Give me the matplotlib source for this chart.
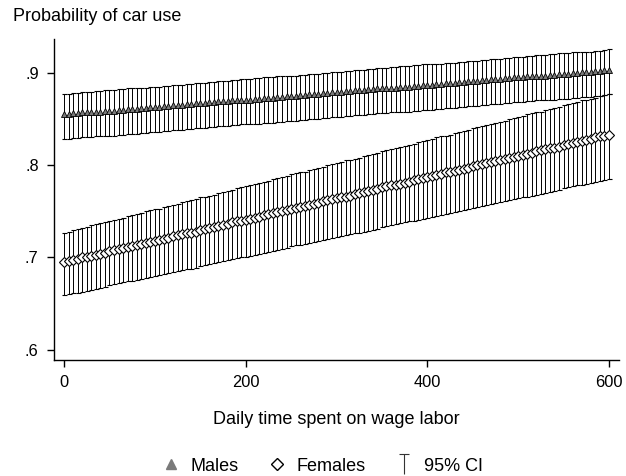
import matplotlib.pyplot as plt
from matplotlib.lines import Line2D
from matplotlib.path import Path

plt.rcParams['font.family'] = ['Liberation Sans', 'DejaVu Sans']

# minutes of daily wage labor, every 5 minutes from 0 to 600
minutes = list(range(0, 601, 5))

# predicted probability of car use, males
males = [
    0.855, 0.855, 0.856, 0.856, 0.857, 0.857, 0.857, 0.858, 0.858, 0.859,
    0.859, 0.859, 0.860, 0.860, 0.861, 0.861, 0.861, 0.862, 0.862, 0.863,
    0.863, 0.863, 0.864, 0.864, 0.865, 0.865, 0.865, 0.866, 0.866, 0.867,
    0.867, 0.867, 0.868, 0.868, 0.869, 0.869, 0.869, 0.870, 0.870, 0.871,
    0.871, 0.871, 0.872, 0.872, 0.873, 0.873, 0.873, 0.874, 0.874, 0.875,
    0.875, 0.875, 0.876, 0.876, 0.877, 0.877, 0.877, 0.878, 0.878, 0.879,
    0.879, 0.879, 0.880, 0.880, 0.881, 0.881, 0.881, 0.882, 0.882, 0.883,
    0.883, 0.883, 0.884, 0.884, 0.885, 0.885, 0.885, 0.886, 0.886, 0.887,
    0.887, 0.887, 0.888, 0.888, 0.889, 0.889, 0.889, 0.890, 0.890, 0.891,
    0.891, 0.891, 0.892, 0.892, 0.893, 0.893, 0.893, 0.894, 0.894, 0.895,
    0.895, 0.895, 0.896, 0.896, 0.897, 0.897, 0.897, 0.898, 0.898, 0.899,
    0.899, 0.899, 0.900, 0.900, 0.901, 0.901, 0.901, 0.902, 0.902, 0.903,
    0.903,
]
males_hi = [
    0.877, 0.877, 0.878, 0.878, 0.879, 0.879, 0.879, 0.880, 0.880, 0.881,
    0.881, 0.881, 0.882, 0.882, 0.883, 0.883, 0.883, 0.884, 0.884, 0.885,
    0.885, 0.885, 0.886, 0.886, 0.887, 0.887, 0.887, 0.888, 0.888, 0.889,
    0.889, 0.889, 0.890, 0.890, 0.891, 0.891, 0.891, 0.892, 0.892, 0.893,
    0.893, 0.893, 0.894, 0.894, 0.895, 0.895, 0.895, 0.896, 0.896, 0.897,
    0.897, 0.897, 0.898, 0.898, 0.899, 0.899, 0.899, 0.900, 0.900, 0.901,
    0.901, 0.901, 0.902, 0.902, 0.903, 0.903, 0.903, 0.904, 0.904, 0.905,
    0.905, 0.905, 0.906, 0.906, 0.907, 0.907, 0.907, 0.908, 0.908, 0.909,
    0.909, 0.909, 0.910, 0.910, 0.911, 0.911, 0.911, 0.912, 0.912, 0.913,
    0.913, 0.913, 0.914, 0.914, 0.915, 0.915, 0.915, 0.916, 0.916, 0.917,
    0.917, 0.917, 0.918, 0.918, 0.919, 0.919, 0.919, 0.920, 0.920, 0.921,
    0.921, 0.921, 0.922, 0.922, 0.923, 0.923, 0.923, 0.924, 0.924, 0.925,
    0.926,
]
males_lo = [
    0.828, 0.828, 0.829, 0.829, 0.830, 0.830, 0.830, 0.831, 0.831, 0.832,
    0.832, 0.832, 0.833, 0.833, 0.834, 0.834, 0.834, 0.835, 0.835, 0.836,
    0.836, 0.836, 0.837, 0.837, 0.838, 0.838, 0.838, 0.839, 0.839, 0.840,
    0.840, 0.840, 0.841, 0.841, 0.842, 0.842, 0.842, 0.843, 0.843, 0.844,
    0.844, 0.844, 0.845, 0.845, 0.846, 0.846, 0.846, 0.847, 0.847, 0.848,
    0.848, 0.848, 0.849, 0.849, 0.850, 0.850, 0.850, 0.851, 0.851, 0.852,
    0.852, 0.852, 0.853, 0.853, 0.854, 0.854, 0.854, 0.855, 0.855, 0.856,
    0.856, 0.856, 0.857, 0.857, 0.858, 0.858, 0.858, 0.859, 0.859, 0.860,
    0.860, 0.860, 0.861, 0.861, 0.862, 0.862, 0.862, 0.863, 0.863, 0.864,
    0.864, 0.864, 0.865, 0.865, 0.866, 0.866, 0.866, 0.867, 0.867, 0.868,
    0.868, 0.868, 0.869, 0.869, 0.870, 0.870, 0.870, 0.871, 0.871, 0.872,
    0.872, 0.872, 0.873, 0.873, 0.874, 0.874, 0.874, 0.875, 0.875, 0.876,
    0.877,
]

# predicted probability of car use, females
females = [
    0.695, 0.696, 0.697, 0.698, 0.700, 0.701, 0.702, 0.703, 0.704, 0.705,
    0.707, 0.708, 0.709, 0.710, 0.711, 0.712, 0.713, 0.715, 0.716, 0.717,
    0.718, 0.719, 0.720, 0.721, 0.723, 0.724, 0.725, 0.726, 0.727, 0.728,
    0.730, 0.731, 0.732, 0.733, 0.734, 0.735, 0.736, 0.738, 0.739, 0.740,
    0.741, 0.742, 0.743, 0.744, 0.746, 0.747, 0.748, 0.749, 0.750, 0.751,
    0.753, 0.754, 0.755, 0.756, 0.757, 0.758, 0.759, 0.761, 0.762, 0.763,
    0.764, 0.765, 0.766, 0.767, 0.769, 0.770, 0.771, 0.772, 0.773, 0.774,
    0.776, 0.777, 0.778, 0.779, 0.780, 0.781, 0.782, 0.784, 0.785, 0.786,
    0.787, 0.788, 0.789, 0.790, 0.792, 0.793, 0.794, 0.795, 0.796, 0.797,
    0.799, 0.800, 0.801, 0.802, 0.803, 0.804, 0.805, 0.807, 0.808, 0.809,
    0.810, 0.811, 0.812, 0.813, 0.815, 0.816, 0.817, 0.818, 0.819, 0.820,
    0.822, 0.823, 0.824, 0.825, 0.826, 0.827, 0.828, 0.830, 0.831, 0.832,
    0.833,
]
females_hi = [
    0.727, 0.728, 0.730, 0.731, 0.732, 0.733, 0.735, 0.736, 0.737, 0.738,
    0.740, 0.741, 0.742, 0.743, 0.745, 0.746, 0.747, 0.748, 0.750, 0.751,
    0.752, 0.753, 0.755, 0.756, 0.757, 0.758, 0.760, 0.761, 0.762, 0.763,
    0.765, 0.766, 0.767, 0.768, 0.770, 0.771, 0.772, 0.773, 0.775, 0.776,
    0.777, 0.778, 0.780, 0.781, 0.782, 0.783, 0.785, 0.786, 0.787, 0.788,
    0.790, 0.791, 0.792, 0.793, 0.795, 0.796, 0.797, 0.798, 0.800, 0.801,
    0.802, 0.803, 0.805, 0.806, 0.807, 0.808, 0.810, 0.811, 0.812, 0.813,
    0.815, 0.816, 0.817, 0.818, 0.820, 0.821, 0.822, 0.823, 0.825, 0.826,
    0.827, 0.828, 0.830, 0.831, 0.832, 0.833, 0.835, 0.836, 0.837, 0.838,
    0.840, 0.841, 0.842, 0.843, 0.845, 0.846, 0.847, 0.848, 0.850, 0.851,
    0.852, 0.853, 0.855, 0.856, 0.857, 0.858, 0.860, 0.861, 0.862, 0.863,
    0.865, 0.866, 0.867, 0.868, 0.870, 0.871, 0.872, 0.873, 0.875, 0.876,
    0.877,
]
females_lo = [
    0.659, 0.660, 0.661, 0.662, 0.663, 0.664, 0.665, 0.666, 0.667, 0.668,
    0.670, 0.671, 0.672, 0.673, 0.674, 0.675, 0.676, 0.677, 0.678, 0.679,
    0.680, 0.681, 0.682, 0.683, 0.684, 0.685, 0.686, 0.687, 0.688, 0.689,
    0.691, 0.692, 0.693, 0.694, 0.695, 0.696, 0.697, 0.698, 0.699, 0.700,
    0.701, 0.702, 0.703, 0.704, 0.705, 0.706, 0.707, 0.708, 0.709, 0.710,
    0.712, 0.713, 0.714, 0.715, 0.716, 0.717, 0.718, 0.719, 0.720, 0.721,
    0.722, 0.723, 0.724, 0.725, 0.726, 0.727, 0.728, 0.729, 0.730, 0.731,
    0.733, 0.734, 0.735, 0.736, 0.737, 0.738, 0.739, 0.740, 0.741, 0.742,
    0.743, 0.744, 0.745, 0.746, 0.747, 0.748, 0.749, 0.750, 0.751, 0.752,
    0.754, 0.755, 0.756, 0.757, 0.758, 0.759, 0.760, 0.761, 0.762, 0.763,
    0.764, 0.765, 0.766, 0.767, 0.768, 0.769, 0.770, 0.771, 0.772, 0.773,
    0.775, 0.776, 0.777, 0.778, 0.779, 0.780, 0.781, 0.782, 0.783, 0.784,
    0.785,
]

y_ticks = [0.6, 0.7, 0.8, 0.9]
y_labels = ['.6', '.7', '.8', '.9']
x_ticks = [0, 200, 400, 600]

fig = plt.figure(figsize=(6.26, 4.76), dpi=100)
ax = fig.add_axes([0.0863, 0.2437, 0.9025, 0.6743])

# confidence intervals as capped spikes
for lo, hi, mid in [(males_lo, males_hi, males), (females_lo, females_hi, females)]:
    err = [[m - l for m, l in zip(mid, lo)], [h - m for m, h in zip(mid, hi)]]
    ax.errorbar(minutes, mid, yerr=err, fmt='none', ecolor='black',
                elinewidth=0.7, capsize=1.8, capthick=0.8, zorder=2)

ax.plot(minutes, males, linestyle='none', marker='^', markersize=4.4,
        markerfacecolor='#7a7a7a', markeredgecolor='black', markeredgewidth=0.6, zorder=3)
ax.plot(minutes, females, linestyle='none', marker='D', markersize=5.0,
        markerfacecolor='white', markeredgecolor='black', markeredgewidth=0.8, zorder=3)

ax.set_xlim(-11, 611)
ax.set_ylim(0.589, 0.9365)
ax.set_xticks(x_ticks)
ax.set_yticks(y_ticks)
ax.set_yticklabels(y_labels)
ax.spines['top'].set_visible(False)
ax.spines['right'].set_visible(False)
ax.spines['left'].set_linewidth(1.0)
ax.spines['bottom'].set_linewidth(1.0)
ax.tick_params(direction='out', length=5, width=1.0, labelsize=11.8, pad=6)

ax.set_xlabel('Daily time spent on wage labor', fontsize=13, labelpad=15)
fig.text(0.021, 0.966, 'Probability of car use', fontsize=13, ha='left', va='center')

# legend: triangle, diamond, capped spike
ci_path = Path([(-0.5, 1), (0.5, 1), (0, 1), (0, -1)],
               [Path.MOVETO, Path.LINETO, Path.MOVETO, Path.LINETO])
handles = [
    Line2D([], [], linestyle='none', marker='^', markersize=6.5,
           markerfacecolor='#7a7a7a', markeredgecolor='#7a7a7a'),
    Line2D([], [], linestyle='none', marker='D', markersize=6.5,
           markerfacecolor='white', markeredgecolor='black', markeredgewidth=1.0),
    Line2D([], [], linestyle='none', marker=ci_path, markersize=15,
           markerfacecolor='none', markeredgecolor='#333333', markeredgewidth=0.8),
]
fig.legend(handles, ['Males', 'Females', '95% CI'], loc='center',
           bbox_to_anchor=(0.515, 0.021), ncol=3, frameon=False, fontsize=13,
           handlelength=1.0, handletextpad=0.6, columnspacing=1.6)

fig.savefig('out.png', dpi=100)
